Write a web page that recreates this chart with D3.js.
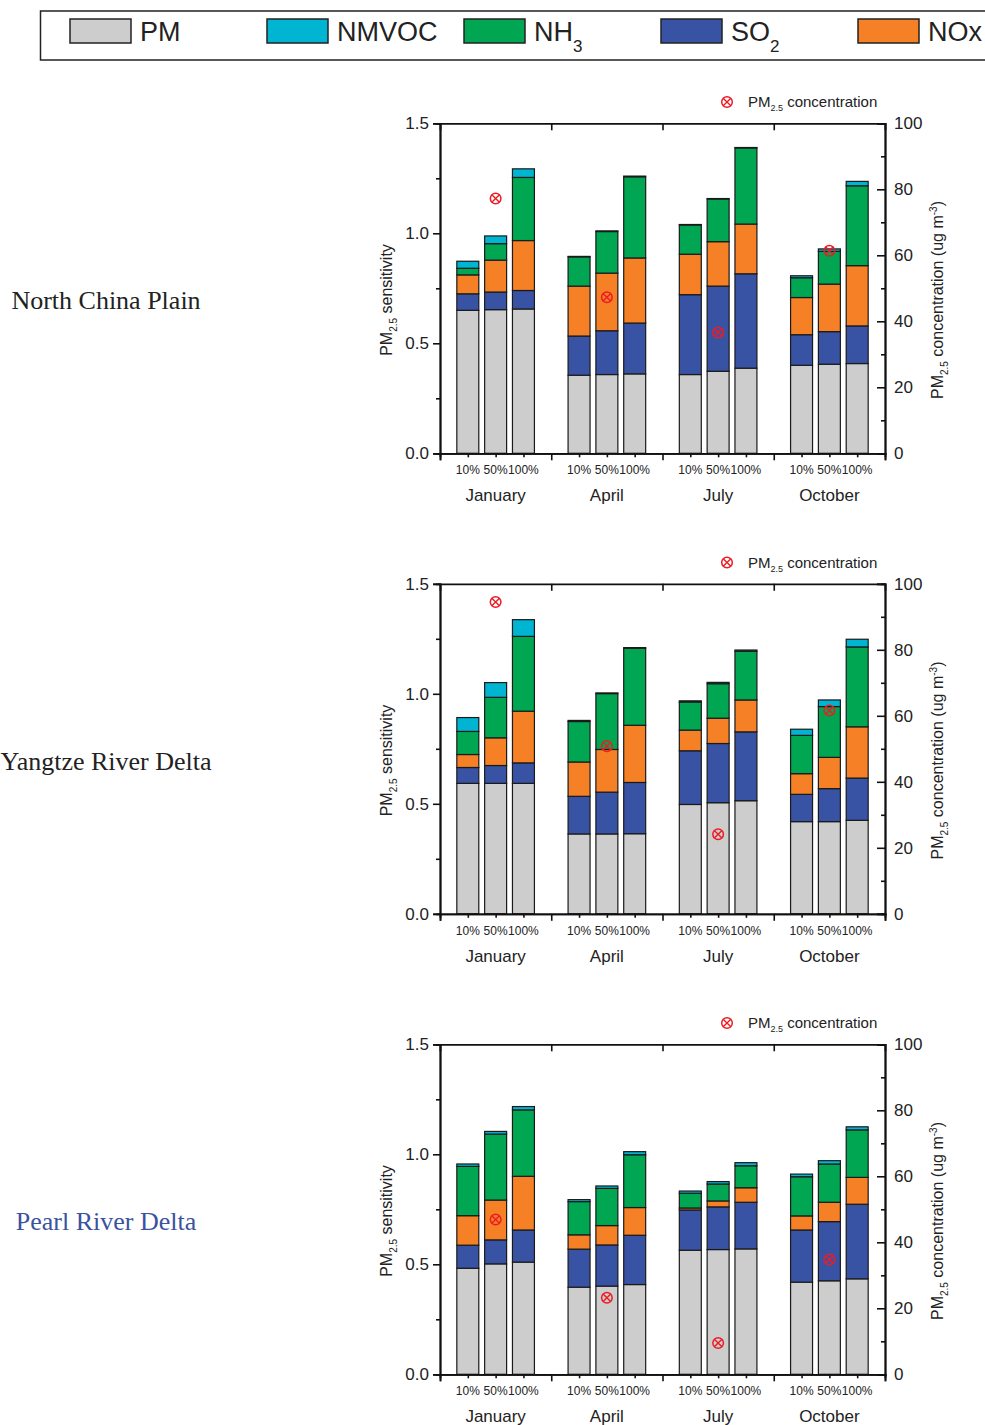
<!DOCTYPE html>
<html><head><meta charset="utf-8">
<script src="https://cdn.jsdelivr.net/npm/d3@7"></script>
<style>
body{margin:0;background:#fff;}
svg{display:block;}
text{font-family:"Liberation Sans",Arial,sans-serif;fill:#222;}
</style></head>
<body>
<svg id="chart" width="985" height="1425"></svg>
<script>
const months = ["January","April","July","October"];
const levels = ["10%","50%","100%"];
const regions = ["North China Plain","Yangtze River Delta","Pearl River Delta"];
const seriesKeys = ["PM","SO2","NOx","NH3","NMVOC"];
const yTicks = [0,0.5,1.0,1.5];
const y2Ticks = [0,20,40,60,80,100];

// North China Plain
const ncpPM    = [0.650,0.653,0.656, 0.355,0.358,0.361, 0.358,0.373,0.387, 0.400,0.405,0.408];
const ncpSO2   = [0.075,0.080,0.084, 0.178,0.199,0.231, 0.363,0.387,0.429, 0.139,0.148,0.171];
const ncpNOx   = [0.086,0.145,0.227, 0.227,0.262,0.296, 0.184,0.202,0.226, 0.169,0.216,0.274];
const ncpNH3   = [0.030,0.075,0.287, 0.133,0.189,0.369, 0.133,0.194,0.346, 0.090,0.149,0.363];
const ncpNMVOC = [0.032,0.035,0.039, 0.002,0.003,0.003, 0.002,0.002,0.002, 0.009,0.011,0.020];
const ncpConc  = [77.2, 47.3, 36.6, 61.4];

// Yangtze River Delta
const yrdPM    = [0.593,0.593,0.593, 0.363,0.363,0.364, 0.497,0.505,0.514, 0.419,0.419,0.425];
const yrdSO2   = [0.072,0.081,0.093, 0.171,0.190,0.233, 0.244,0.269,0.313, 0.124,0.150,0.192];
const yrdNOx   = [0.059,0.126,0.235, 0.156,0.194,0.260, 0.094,0.115,0.145, 0.094,0.142,0.233];
const yrdNH3   = [0.105,0.184,0.340, 0.184,0.254,0.350, 0.128,0.157,0.221, 0.174,0.231,0.363];
const yrdNMVOC = [0.063,0.067,0.076, 0.005,0.003,0.003, 0.005,0.006,0.006, 0.028,0.030,0.035];
const yrdConc  = [94.5, 50.8, 24.1, 61.6];

// Pearl River Delta
const prdPM    = [0.482,0.502,0.510, 0.396,0.401,0.408, 0.564,0.567,0.570, 0.419,0.425,0.434];
const prdSO2   = [0.105,0.109,0.146, 0.173,0.187,0.224, 0.183,0.194,0.212, 0.237,0.269,0.339];
const prdNOx   = [0.134,0.181,0.244, 0.065,0.088,0.126, 0.009,0.027,0.066, 0.064,0.088,0.122];
const prdNH3   = [0.224,0.300,0.302, 0.151,0.169,0.240, 0.067,0.077,0.100, 0.178,0.174,0.216];
const prdNMVOC = [0.011,0.012,0.015, 0.009,0.011,0.014, 0.010,0.011,0.014, 0.012,0.015,0.014];
const prdConc  = [46.9, 23.2, 9.5, 34.8];

const colors = {PM:"#cdcdcd", SO2:"#3953a4", NOx:"#f58025", NH3:"#00a651", NMVOC:"#00b5d1"};
const legendItems = [
  {key:"PM", label:"PM", sub:""},
  {key:"NMVOC", label:"NMVOC", sub:""},
  {key:"NH3", label:"NH", sub:"3"},
  {key:"SO2", label:"SO", sub:"2"},
  {key:"NOx", label:"NOx", sub:""}
];
const regionData = [
  {PM:ncpPM,SO2:ncpSO2,NOx:ncpNOx,NH3:ncpNH3,NMVOC:ncpNMVOC,conc:ncpConc,color:"#222"},
  {PM:yrdPM,SO2:yrdSO2,NOx:yrdNOx,NH3:yrdNH3,NMVOC:yrdNMVOC,conc:yrdConc,color:"#222"},
  {PM:prdPM,SO2:prdSO2,NOx:prdNOx,NH3:prdNH3,NMVOC:prdNMVOC,conc:prdConc,color:"#3a52a0"}
];

const svg = d3.select("#chart");
const panelOffsets = [0, 460.5, 921];

// Legend
const lg = svg.append("g");
lg.append("rect").attr("x",40.5).attr("y",11).attr("width",960).attr("height",49)
  .attr("fill","none").attr("stroke","#222").attr("stroke-width",1.5);
const lx = d3.scaleLinear().domain([0,1]).range([70,267]);
legendItems.forEach((it,i)=>{
  const x0 = lx(i);
  lg.append("rect").attr("x",x0).attr("y",19).attr("width",61).attr("height",24)
    .attr("fill",colors[it.key]).attr("stroke","#222").attr("stroke-width",1.5);
  const t = lg.append("text").attr("x",x0+70).attr("y",41).style("font-size","27px");
  t.append("tspan").text(it.label);
  if(it.sub) t.append("tspan").attr("dy",11).style("font-size","17px").text(it.sub);
});

const x = d3.scaleLinear().domain([0,16]).range([440,885]);
const y = d3.scaleLinear().domain([0,1.5]).range([453.3,123.3]);
const y2 = d3.scaleLinear().domain([0,100]).range([453.3,123.3]);
const barW = x(0.79)-x(0);

function marker(g, cx, cy){
  const r = 5.3;
  g.append("circle").attr("cx",cx).attr("cy",cy).attr("r",r).attr("fill","none")
    .attr("stroke","#ed1c24").attr("stroke-width",1.5);
  const d = r*0.72;
  g.append("path").attr("d",`M${cx-d},${cy-d}L${cx+d},${cy+d}M${cx-d},${cy+d}L${cx+d},${cy-d}`)
    .attr("stroke","#ed1c24").attr("stroke-width",1.4);
}

regionData.forEach((rd,ri)=>{
  const g = svg.append("g").attr("transform",`translate(0,${panelOffsets[ri]})`);
  // region label
  g.append("text").attr("x",106).attr("y",309).attr("text-anchor","middle")
    .style("font-family","'Liberation Serif','Times New Roman',serif")
    .style("font-size","26px").style("fill",rd.color).text(regions[ri]);

  const rows = [];
  months.forEach((m,mi)=>levels.forEach((l,li)=>{
    const idx = mi*3+li;
    const row = {pos: mi*4+li+1};
    seriesKeys.forEach(k=>row[k]=rd[k][idx]);
    rows.push(row);
  }));
  const stacked = d3.stack().keys(seriesKeys)(rows);
  stacked.forEach(s=>{
    g.append("g").selectAll("rect").data(s).join("rect")
      .attr("x",d=>x(d.data.pos)-barW/2)
      .attr("width",barW)
      .attr("y",d=>y(d[1]))
      .attr("height",d=>Math.max(0,y(d[0])-y(d[1])))
      .attr("fill",colors[s.key])
      .attr("stroke","#1a1a1a").attr("stroke-width",1.2);
  });

  // axes
  const axW = 1.8;
  const left = g.append("g").attr("transform",`translate(${x(0)},0)`)
    .call(d3.axisLeft(y).tickValues(yTicks).tickFormat(d3.format(".1f")).tickSize(7).tickPadding(4));
  const leftMinor = g.append("g").attr("transform",`translate(${x(0)},0)`)
    .call(d3.axisLeft(y).tickValues([0.25,0.75,1.25]).tickFormat("").tickSize(4));
  const right = g.append("g").attr("transform",`translate(${x(16)},0)`)
    .call(d3.axisRight(y2).tickValues(y2Ticks).tickSize(-8).tickPadding(9));
  const rightMinor = g.append("g").attr("transform",`translate(${x(16)},0)`)
    .call(d3.axisRight(y2).tickValues([10,30,50,70,90]).tickFormat("").tickSize(-4));
  const bottom = g.append("g").attr("transform",`translate(0,${y(0)})`)
    .call(d3.axisBottom(x).tickValues([0,4,8,12,16]).tickFormat("").tickSize(7));
  const bottomMinor = g.append("g").attr("transform",`translate(0,${y(0)})`)
    .call(d3.axisBottom(x).tickValues(rows.map(r=>r.pos)).tickFormat("").tickSize(4));
  const top = g.append("g").attr("transform",`translate(0,${y(1.5)})`)
    .call(d3.axisTop(x).tickValues([4,8,12]).tickFormat("").tickSize(-7));
  [left,leftMinor,right,rightMinor,bottom,bottomMinor,top].forEach(a=>{
    a.select(".domain").attr("stroke","#111").attr("stroke-width",axW);
    a.selectAll(".tick line").attr("stroke","#111").attr("stroke-width",1.6);
    a.selectAll(".tick text").style("font-size","17px").style("font-family","'Liberation Sans',Arial,sans-serif").attr("fill","#222");
  });

  // level labels
  g.append("g").selectAll("text").data(rows).join("text")
    .attr("x",d=>x(d.pos)).attr("y",474).attr("text-anchor","middle")
    .style("font-size","12px").text((d,i)=>levels[i%3]);
  // month labels
  g.append("g").selectAll("text").data(months).join("text")
    .attr("x",(d,i)=>x(i*4+2)).attr("y",501).attr("text-anchor","middle")
    .style("font-size","17px").text(d=>d);

  // concentration markers
  rd.conc.forEach((c,mi)=>marker(g, x(mi*4+2), y2(c)));

  // marker legend
  marker(g, 727, 102);
  const lt = g.append("text").attr("x",748).attr("y",107).style("font-size","15px");
  lt.append("tspan").text("PM");
  lt.append("tspan").attr("dy",4).style("font-size","9px").text("2.5");
  lt.append("tspan").attr("dy",-4).text(" concentration");

  // axis titles
  const lt2 = g.append("text").attr("transform",`translate(392,300) rotate(-90)`)
    .attr("text-anchor","middle").style("font-size","16px");
  lt2.append("tspan").text("PM");
  lt2.append("tspan").attr("dy",5).style("font-size","10px").text("2.5");
  lt2.append("tspan").attr("dy",-5).text(" sensitivity");

  const rt = g.append("text").attr("transform",`translate(943,300) rotate(-90)`)
    .attr("text-anchor","middle").style("font-size","16px");
  rt.append("tspan").text("PM");
  rt.append("tspan").attr("dy",5).style("font-size","10px").text("2.5");
  rt.append("tspan").attr("dy",-5).text(" concentration (ug m");
  rt.append("tspan").attr("dy",-6).style("font-size","10px").text("-3");
  rt.append("tspan").attr("dy",6).text(")");
});
</script>
</body></html>
